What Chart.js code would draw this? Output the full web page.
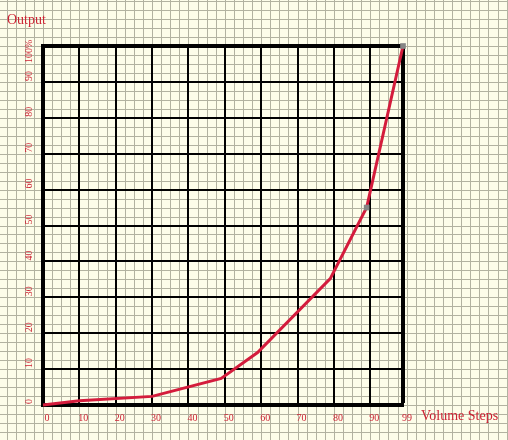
<!DOCTYPE html>
<html>
<head>
<meta charset="utf-8">
<script src="https://cdn.jsdelivr.net/npm/chart.js@4/dist/chart.umd.min.js"></script>
<style>
  html, body { margin: 0; padding: 0; background: #fdfde9; }
  #wrap { width: 508px; height: 440px; }
</style>
</head>
<body>
<div id="wrap"><canvas id="grafico" width="508" height="440"></canvas></div>
<script>
// data
const volumeSteps = [0, 10, 30, 49, 59, 79, 89, 99];
const output = [0, 1.2, 2.4, 7.4, 14.6, 35.2, 55, 100];
const markedSteps = [89, 99];

// axes
const xTicks = [0, 10, 20, 30, 40, 50, 60, 70, 80, 90, 99];
const yTicks = [0, 10, 20, 30, 40, 50, 60, 70, 80, 90];
const yTopTick = 100;
const yTopLabel = "100%";
const yName = "Output";
const xName = "Volume Steps";

const red = "#cc2233";
const serif = '"Liberation Serif", "DejaVu Serif", serif';

// graph paper behind everything, 2.5 units per small square
const graphPaper = {
  id: "graphPaper",
  beforeDraw(chart) {
    const { ctx, width, height } = chart;
    const x = chart.scales.x, y = chart.scales.y;
    ctx.save();
    ctx.fillStyle = "#fdfde9";
    ctx.fillRect(0, 0, width, height);
    ctx.strokeStyle = "#b2b2a0";
    ctx.lineWidth = 1;
    ctx.beginPath();
    for (let v = -20; v <= 160; v += 2.5) {
      const px = Math.round(x.getPixelForValue(v)) + 0.5;
      if (px >= 0 && px <= width) { ctx.moveTo(px, 0); ctx.lineTo(px, height); }
      const py = Math.round(y.getPixelForValue(v)) + 0.5;
      if (py >= 0 && py <= height) { ctx.moveTo(0, py); ctx.lineTo(width, py); }
    }
    ctx.stroke();
    ctx.restore();
  }
};

// axis names: "Output" top-left, "Volume Steps" right of the x axis
const axisNames = {
  id: "axisNames",
  afterDraw(chart) {
    const { ctx, chartArea } = chart;
    ctx.save();
    ctx.font = "14px " + serif;
    ctx.fillStyle = red;
    ctx.textAlign = "left";
    ctx.textBaseline = "alphabetic";
    ctx.fillText(yName, 7, 24);
    ctx.fillText(xName, chartArea.right + 18, chartArea.bottom + 15);
    ctx.restore();
  }
};

const points = volumeSteps.map((v, i) => ({ x: v, y: output[i] }));

// rotated y labels, drawn "mirrored" so they are not clipped to the axis box
const yLabelTicks = {
  color: red,
  font: { family: serif, size: 10 },
  mirror: true,
  crossAlign: "near",
  minRotation: 90,
  maxRotation: 90,
  autoSkip: false
};

new Chart(document.getElementById("grafico"), {
  type: "line",
  data: {
    datasets: [{
      data: points,
      borderColor: "#d41c3c",
      borderWidth: 3,
      tension: 0,
      clip: false,
      pointStyle: "rect",
      pointRadius: volumeSteps.map(v => markedSteps.includes(v) ? 4 : 0),
      pointBackgroundColor: "#858585",
      pointBorderWidth: 0
    }]
  },
  options: {
    responsive: false,
    animation: false,
    events: [],
    layout: { padding: { left: 0, top: 46, right: 105, bottom: 14 } },
    plugins: {
      legend: { display: false },
      title: { display: false },
      tooltip: { enabled: false }
    },
    scales: {
      x: {
        type: "linear",
        min: 0,
        max: 99,
        afterBuildTicks: s => { s.ticks = xTicks.map(v => ({ value: v })); },
        afterFit: s => { s.height = 20; },
        border: { display: true, color: "#000", width: 4 },
        grid: {
          color: "#000",
          drawTicks: false,
          lineWidth: c => (c.tick && c.tick.value === 99) ? 4 : 2
        },
        ticks: {
          color: red,
          font: { family: serif, size: 10 },
          padding: 7,
          labelOffset: 4,
          maxRotation: 0,
          autoSkip: false
        }
      },
      y: {
        type: "linear",
        position: "left",
        min: 0,
        max: 100,
        afterBuildTicks: s => { s.ticks = yTicks.map(v => ({ value: v })); },
        afterFit: s => { s.width = 43; },
        border: { display: true, color: "#000", width: 4 },
        grid: { color: "#000", lineWidth: 2, drawTicks: false },
        ticks: Object.assign({}, yLabelTicks, { padding: -14, labelOffset: -1 })
      },
      yTop: {
        type: "linear",
        position: "left",
        weight: 1,
        min: 0,
        max: 100,
        afterBuildTicks: s => { s.ticks = [{ value: yTopTick }]; },
        afterFit: s => { s.width = 0; },
        border: { display: false },
        grid: { color: "#000", lineWidth: 4, drawTicks: false },
        ticks: Object.assign({}, yLabelTicks, {
          padding: 29,
          labelOffset: 17,
          callback: () => yTopLabel
        })
      }
    }
  },
  plugins: [graphPaper, axisNames]
});
</script>
</body>
</html>
